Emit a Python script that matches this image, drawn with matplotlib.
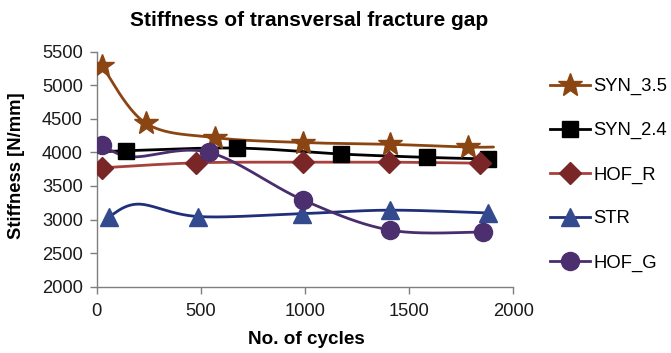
import numpy as np
import matplotlib
matplotlib.use("Agg")
import matplotlib.pyplot as plt
from matplotlib.lines import Line2D

# ---- data ----
syn35_x = [27, 236, 568, 990, 1408, 1784, 1905]
syn35_y = [5280, 4435, 4220, 4147, 4120, 4080, 4080]
syn35_marked = [1, 1, 1, 1, 1, 1, 0]

syn24_x = [0, 139, 672, 1171, 1584, 1877]
syn24_y = [4000, 4025, 4065, 3976, 3926, 3903]
syn24_marked = [0, 1, 1, 1, 1, 1]

hofr_x = [24, 477, 992, 1405, 1840]
hofr_y = [3770, 3845, 3855, 3855, 3840]
hofr_marked = [1, 1, 1, 1, 1]

str_x = [60, 200, 488, 984, 1408, 1880]
str_y = [3045, 3230, 3045, 3088, 3140, 3098]
str_marked = [1, 0, 1, 1, 1, 1]

hofg_x = [27, 170, 540, 989, 1408, 1856]
hofg_y = [4113, 3935, 4000, 3294, 2843, 2814]
hofg_marked = [1, 0, 1, 1, 1, 1]

series_names = ["SYN_3.5", "SYN_2.4", "HOF_R", "STR", "HOF_G"]
x_ticks = [0, 500, 1000, 1500, 2000]
y_ticks = [2000, 2500, 3000, 3500, 4000, 4500, 5000, 5500]

plt.rcParams['font.family'] = ['Liberation Sans', 'DejaVu Sans']

W, H = 671, 353
fig = plt.figure(figsize=(W / 100, H / 100), dpi=100)
ax_l, ax_r, ax_t, ax_b = 96.7, 513.3, 51.7, 286.7
ax = fig.add_axes([ax_l / W, 1 - ax_b / H, (ax_r - ax_l) / W, (ax_b - ax_t) / H])
ax.set_xlim(0, 2000)
ax.set_ylim(2000, 5500)

sx = (ax_r - ax_l) / 2000.0
sy = (ax_b - ax_t) / 3500.0


def smooth(xs, ys, n=40):
    p = np.column_stack([np.asarray(xs, float) * sx, np.asarray(ys, float) * sy])
    if len(p) < 3:
        return xs, ys
    ext = np.vstack([p[0] - (p[1] - p[0]), p, p[-1] + (p[-1] - p[-2])])
    out = []
    for i in range(1, len(ext) - 2):
        p0, p1, p2, p3 = ext[i - 1], ext[i], ext[i + 1], ext[i + 2]
        if i == 1:
            c1 = p1 + (p2 - p1) / 6.0
        else:
            c1 = p1 + (p2 - p0) / 6.0
        if i == len(ext) - 3:
            c2 = p2 - (p2 - p1) / 6.0
        else:
            c2 = p2 - (p3 - p1) / 6.0
        t = np.linspace(0, 1, n)[:, None]
        b = ((1 - t) ** 3) * p1 + 3 * ((1 - t) ** 2) * t * c1 + 3 * (1 - t) * t ** 2 * c2 + t ** 3 * p2
        out.append(b if i == 1 else b[1:])
    out = np.vstack(out)
    return out[:, 0] / sx, out[:, 1] / sy


specs = [
    (syn35_x, syn35_y, syn35_marked, '#8a4512', '#8a4512', '*', 18),
    (syn24_x, syn24_y, syn24_marked, '#000000', '#000000', 's', 12),
    (hofr_x, hofr_y, hofr_marked, '#a8403c', '#7a2626', 'D', 11),
    (str_x, str_y, str_marked, '#1f2f7a', '#344a8e', '^', 13),
    (hofg_x, hofg_y, hofg_marked, '#4a2d6c', '#4c2f6e', 'o', 13),
]

handles = []
for (xs, ys, mk, lc, mc, m, ms), name in zip(specs, series_names):
    cx, cy = smooth(xs, ys)
    ax.plot(cx, cy, color=lc, lw=2.0, zorder=2, solid_capstyle='round')
    xm = [x for x, k in zip(xs, mk) if k]
    ym = [y for y, k in zip(ys, mk) if k]
    ax.plot(xm, ym, ls='none', marker=m, ms=ms, mfc=mc, mec=mc, zorder=3)
    handles.append(Line2D([0], [0], color=lc, lw=2.0, marker=m, ms=ms,
                          mfc=mc, mec=mc, label=name))

for s in ['top', 'right']:
    ax.spines[s].set_visible(False)
for s in ['left', 'bottom']:
    ax.spines[s].set_color('#7f7f7f')
    ax.spines[s].set_linewidth(1.0)
ax.set_xticks(x_ticks)
ax.set_yticks(y_ticks)
ax.tick_params(axis='both', direction='out', length=5, width=1, color='#7f7f7f',
               labelsize=13.2, labelcolor='#1a1a1a', pad=5)
ax.tick_params(axis='x', pad=7)

fig.text(309 / W, 1 - 21 / H, "Stiffness of transversal fracture gap", ha='center', va='center',
         fontsize=15, fontweight='bold')
fig.text(306 / W, 1 - 340 / H, "No. of cycles", ha='center', va='center',
         fontsize=13.6, fontweight='bold')
fig.text(17 / W, 1 - 166 / H, "Stiffness [N/mm]", ha='center', va='center', rotation=90,
         fontsize=13.2, fontweight='bold')

leg = fig.legend(handles=handles, loc='upper left', bbox_to_anchor=(550 / W, 1 - 78 / H),
                 frameon=False, fontsize=13.3, handlelength=2.15, handletextpad=0.2,
                 labelspacing=1.46, borderpad=0, borderaxespad=0)

fig.savefig('out.png', dpi=100)
